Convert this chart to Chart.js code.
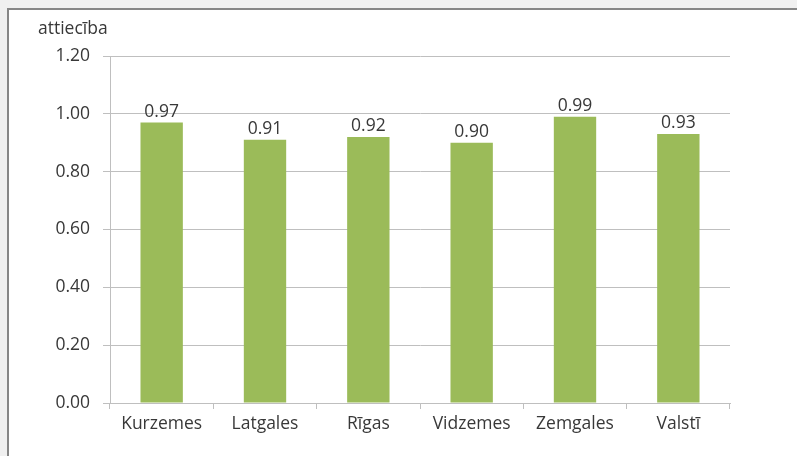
<!DOCTYPE html>
<html>
<head>
<meta charset="utf-8">
<script src="https://cdn.jsdelivr.net/npm/chart.js@4/dist/chart.umd.min.js"></script>
<style>
    html, body { margin: 0; padding: 0; background: #f0f0f0; overflow: hidden; }
    .frame {
        position: absolute; left: 7px; top: 8px; width: 820px; height: 480px;
        background: #fff; border-left: 2px solid #868686; border-top: 2px solid #868686;
    }
    #grafik { position: absolute; left: 0; top: 0; }
</style>
</head>
<body>
<div class="frame"></div>
<canvas id="grafik" width="797" height="456"></canvas>
<script>
// regions and their ratio values
const regioni = ['Kurzemes', 'Latgales', 'Rīgas', 'Vidzemes', 'Zemgales', 'Valstī'];
const attieciba = [0.97, 0.91, 0.92, 0.90, 0.99, 0.93];
const yTicks = [0, 0.2, 0.4, 0.6, 0.8, 1.0, 1.2];
const yTitle = 'attiecība';

const fontFam = '"Open Sans", sans-serif';
const fontSize = 17.5;
const textColor = '#383838';
const gridColor = '#bfbfbf';

// value above each bar + the axis title in the corner
const labelPlugin = {
    id: 'barLabels',
    afterDatasetsDraw(chart) {
        const ctx = chart.ctx;
        ctx.save();
        ctx.font = fontSize + 'px ' + fontFam;
        ctx.fillStyle = textColor;
        ctx.textAlign = 'center';
        ctx.textBaseline = 'alphabetic';
        chart.getDatasetMeta(0).data.forEach((bar, i) => {
            ctx.fillText(attieciba[i].toFixed(2), bar.x, bar.y - 6);
        });
        ctx.textAlign = 'left';
        ctx.textBaseline = 'middle';
        ctx.fillText(yTitle, 38, 29);
        ctx.restore();
    }
};

new Chart(document.getElementById('grafik'), {
    type: 'bar',
    data: {
        labels: regioni,
        datasets: [{
            data: attieciba,
            backgroundColor: '#9bbb59',
            barPercentage: 0.41,
            categoryPercentage: 1
        }]
    },
    options: {
        responsive: false,
        animation: false,
        layout: { padding: { top: 56, right: 67, bottom: 0, left: 0 } },
        plugins: { legend: { display: false }, tooltip: { enabled: false } },
        scales: {
            x: {
                offset: true,
                afterFit: s => { s.height = 53; },
                grid: { display: true, drawOnChartArea: false, tickLength: 6, color: gridColor, offset: true },
                border: { color: gridColor },
                ticks: { color: textColor, padding: 5, font: { family: fontFam, size: fontSize } }
            },
            y: {
                min: 0,
                max: 1.2,
                afterFit: s => { s.width = 110; },
                afterBuildTicks: s => { s.ticks = yTicks.map(v => ({ value: v })); },
                grid: { color: gridColor, tickLength: 7 },
                border: { color: gridColor },
                ticks: {
                    color: textColor, padding: 13,
                    font: { family: fontFam, size: fontSize },
                    callback: v => v.toFixed(2)
                }
            }
        }
    },
    plugins: [labelPlugin]
});
</script>
</body>
</html>
